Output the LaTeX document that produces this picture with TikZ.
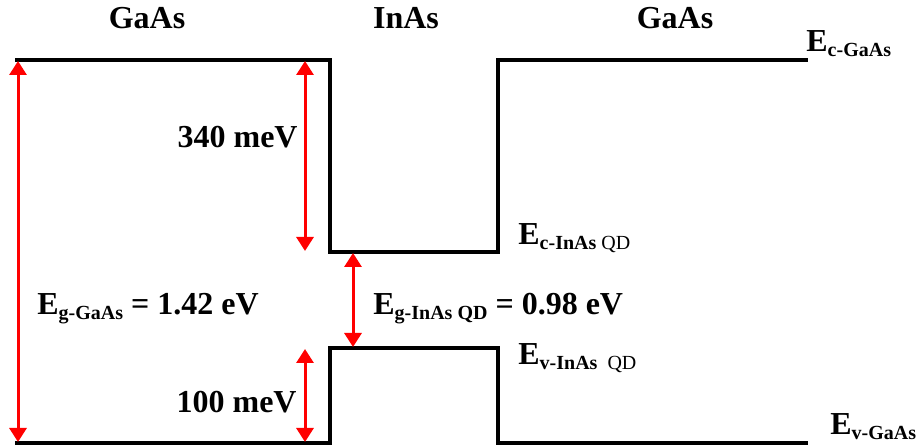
\documentclass[tikz,border=0pt]{standalone}
\usepackage{fontspec}
\setmainfont{Liberation Serif}
\usetikzlibrary{arrows.meta}
\newcommand{\lowsub}[1]{\raisebox{-2.5pt}{\fontsize{10}{10}\selectfont #1}}

\begin{document}
\begin{tikzpicture}[x=0.5pt, y=-0.5pt, font=\fontsize{16}{19}\selectfont\bfseries,
  band/.style={line width=1.75pt},
  gap/.style={red, line width=1.5pt,
    {Triangle[width=8.5pt,length=7pt]}-{Triangle[width=8.5pt,length=7pt]}},
  lbl/.style={inner sep=0pt, anchor=base west}]
  \useasboundingbox (0,0) rectangle (923,448);
  % band edges
  \coordinate (cleft) at (15,60);
  \coordinate (ctopl) at (330,60);
  \coordinate (cwelll) at (330,252);
  \coordinate (cwellr) at (498,252);
  \coordinate (ctopr) at (498,60);
  \coordinate (cright) at (808,60);
  \coordinate (vleft) at (15,443);
  \coordinate (vbotl) at (330,443);
  \coordinate (vwelll) at (330,348);
  \coordinate (vwellr) at (498,348);
  \coordinate (vbotr) at (498,443);
  \coordinate (vright) at (808,443);
  \draw[band] (cleft) -- (ctopl) -- (cwelll) -- (cwellr) -- (ctopr) -- (cright);
  \draw[band] (vleft) -- (vbotl) -- (vwelll) -- (vwellr) -- (vbotr) -- (vright);
  % gaps and offsets
  \coordinate (gt) at (18,61);
  \coordinate (gb) at (18,442);
  \coordinate (ct) at (305,61);
  \coordinate (cb) at (305,251);
  \coordinate (qt) at (353,253);
  \coordinate (qb) at (353,347);
  \coordinate (vt) at (305,349);
  \coordinate (vb) at (305,442);
  \draw[gap] (gt) -- (gb);
  \draw[gap] (ct) -- (cb);
  \draw[gap] (qt) -- (qb);
  \draw[gap] (vt) -- (vb);
  % labels
  \node[inner sep=0pt, anchor=base] (gaasl) at (147,29) {GaAs};
  \node[inner sep=0pt, anchor=base] (inas) at (406,29) {InAs};
  \node[inner sep=0pt, anchor=base] (gaasr) at (675,29) {GaAs};
  \node[inner sep=0pt, anchor=base east] (dc) at (298,148) {340 meV};
  \node[inner sep=0pt, anchor=base east] (dv) at (297,413) {100 meV};
  \node[lbl] (eggaas) at (37,315) {E\lowsub{g-GaAs} = 1.42 eV};
  \node[lbl] (eginas) at (373,315) {E\lowsub{g-InAs QD} = 0.98 eV};
  \node[lbl] (ecinas) at (518,245) {E\lowsub{c-InAs \mdseries QD}};
  \node[lbl] (evinas) at (518,365) {E\lowsub{v-InAs \mdseries\ QD}};
  \node[lbl] (ecgaas) at (806,52) {E\lowsub{c-GaAs}};
  \node[lbl] (evgaas) at (830,435) {E\lowsub{v-GaAs}};
\end{tikzpicture}
\end{document}
